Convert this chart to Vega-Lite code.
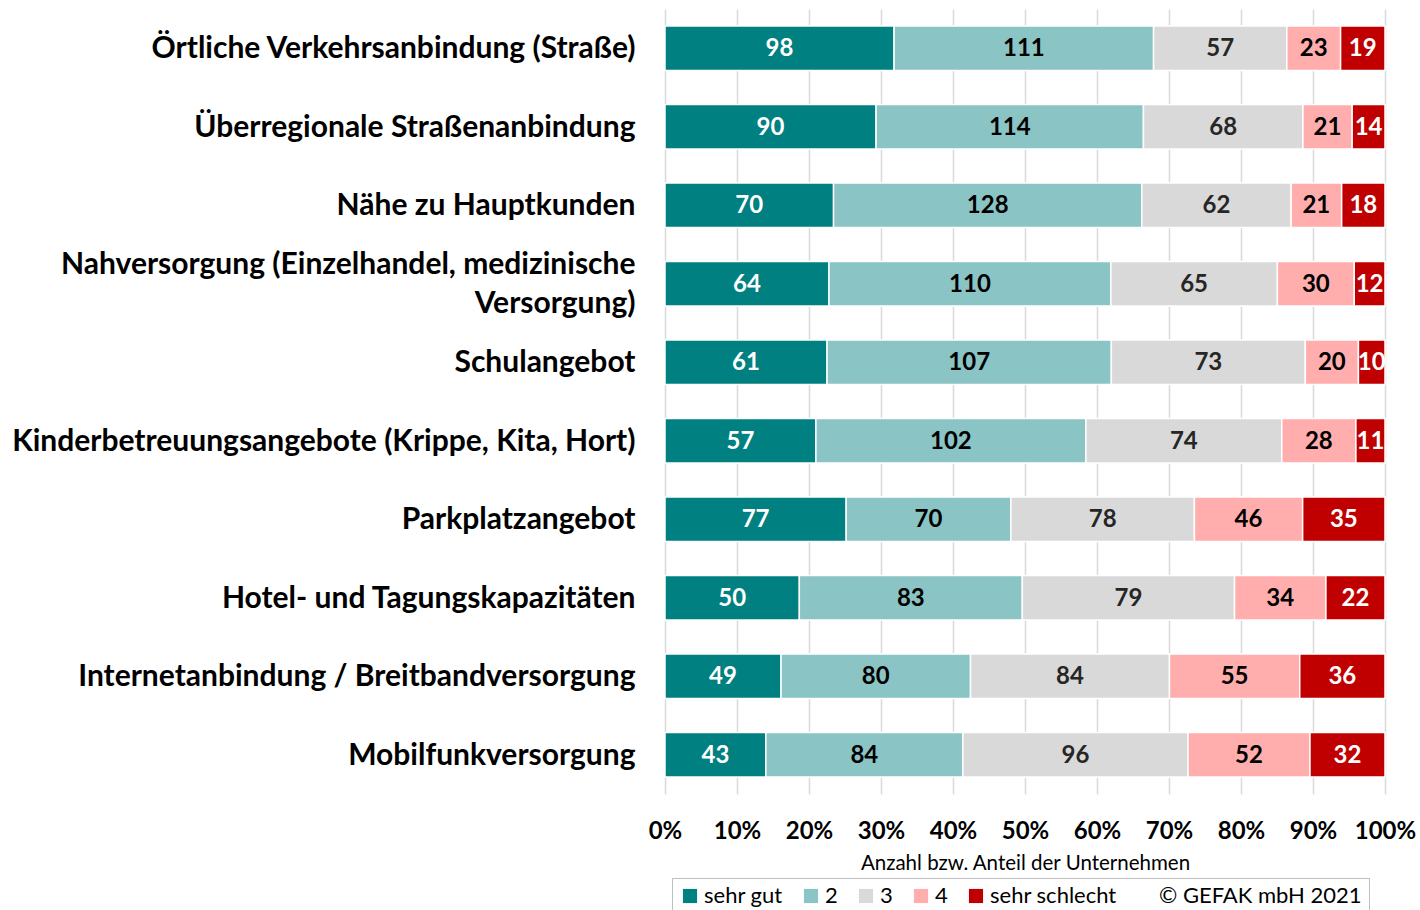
{
  "$schema": "https://vega.github.io/schema/vega-lite/v6.json",
  "autosize": {"type": "none"},
  "width": 720,
  "height": 785,
  "padding": {"left": 665, "top": 9, "right": 35, "bottom": 116},
  "background": "white",
  "config": {
    "font": "Lato",
    "view": {"stroke": null}
  },
  "datasets": {
    "rows": [
      {"i": 1, "item": "Örtliche Verkehrsanbindung (Straße)", "cat": "sehr gut", "k": 1, "n": 98},
      {"i": 1, "item": "Örtliche Verkehrsanbindung (Straße)", "cat": "2", "k": 2, "n": 111},
      {"i": 1, "item": "Örtliche Verkehrsanbindung (Straße)", "cat": "3", "k": 3, "n": 57},
      {"i": 1, "item": "Örtliche Verkehrsanbindung (Straße)", "cat": "4", "k": 4, "n": 23},
      {"i": 1, "item": "Örtliche Verkehrsanbindung (Straße)", "cat": "sehr schlecht", "k": 5, "n": 19},
      {"i": 2, "item": "Überregionale Straßenanbindung", "cat": "sehr gut", "k": 1, "n": 90},
      {"i": 2, "item": "Überregionale Straßenanbindung", "cat": "2", "k": 2, "n": 114},
      {"i": 2, "item": "Überregionale Straßenanbindung", "cat": "3", "k": 3, "n": 68},
      {"i": 2, "item": "Überregionale Straßenanbindung", "cat": "4", "k": 4, "n": 21},
      {"i": 2, "item": "Überregionale Straßenanbindung", "cat": "sehr schlecht", "k": 5, "n": 14},
      {"i": 3, "item": "Nähe zu Hauptkunden", "cat": "sehr gut", "k": 1, "n": 70},
      {"i": 3, "item": "Nähe zu Hauptkunden", "cat": "2", "k": 2, "n": 128},
      {"i": 3, "item": "Nähe zu Hauptkunden", "cat": "3", "k": 3, "n": 62},
      {"i": 3, "item": "Nähe zu Hauptkunden", "cat": "4", "k": 4, "n": 21},
      {"i": 3, "item": "Nähe zu Hauptkunden", "cat": "sehr schlecht", "k": 5, "n": 18},
      {"i": 4, "item": "Nahversorgung (Einzelhandel, medizinische Versorgung)", "cat": "sehr gut", "k": 1, "n": 64},
      {"i": 4, "item": "Nahversorgung (Einzelhandel, medizinische Versorgung)", "cat": "2", "k": 2, "n": 110},
      {"i": 4, "item": "Nahversorgung (Einzelhandel, medizinische Versorgung)", "cat": "3", "k": 3, "n": 65},
      {"i": 4, "item": "Nahversorgung (Einzelhandel, medizinische Versorgung)", "cat": "4", "k": 4, "n": 30},
      {"i": 4, "item": "Nahversorgung (Einzelhandel, medizinische Versorgung)", "cat": "sehr schlecht", "k": 5, "n": 12},
      {"i": 5, "item": "Schulangebot", "cat": "sehr gut", "k": 1, "n": 61},
      {"i": 5, "item": "Schulangebot", "cat": "2", "k": 2, "n": 107},
      {"i": 5, "item": "Schulangebot", "cat": "3", "k": 3, "n": 73},
      {"i": 5, "item": "Schulangebot", "cat": "4", "k": 4, "n": 20},
      {"i": 5, "item": "Schulangebot", "cat": "sehr schlecht", "k": 5, "n": 10},
      {"i": 6, "item": "Kinderbetreuungsangebote (Krippe, Kita, Hort)", "cat": "sehr gut", "k": 1, "n": 57},
      {"i": 6, "item": "Kinderbetreuungsangebote (Krippe, Kita, Hort)", "cat": "2", "k": 2, "n": 102},
      {"i": 6, "item": "Kinderbetreuungsangebote (Krippe, Kita, Hort)", "cat": "3", "k": 3, "n": 74},
      {"i": 6, "item": "Kinderbetreuungsangebote (Krippe, Kita, Hort)", "cat": "4", "k": 4, "n": 28},
      {"i": 6, "item": "Kinderbetreuungsangebote (Krippe, Kita, Hort)", "cat": "sehr schlecht", "k": 5, "n": 11},
      {"i": 7, "item": "Parkplatzangebot", "cat": "sehr gut", "k": 1, "n": 77},
      {"i": 7, "item": "Parkplatzangebot", "cat": "2", "k": 2, "n": 70},
      {"i": 7, "item": "Parkplatzangebot", "cat": "3", "k": 3, "n": 78},
      {"i": 7, "item": "Parkplatzangebot", "cat": "4", "k": 4, "n": 46},
      {"i": 7, "item": "Parkplatzangebot", "cat": "sehr schlecht", "k": 5, "n": 35},
      {"i": 8, "item": "Hotel- und Tagungskapazitäten", "cat": "sehr gut", "k": 1, "n": 50},
      {"i": 8, "item": "Hotel- und Tagungskapazitäten", "cat": "2", "k": 2, "n": 83},
      {"i": 8, "item": "Hotel- und Tagungskapazitäten", "cat": "3", "k": 3, "n": 79},
      {"i": 8, "item": "Hotel- und Tagungskapazitäten", "cat": "4", "k": 4, "n": 34},
      {"i": 8, "item": "Hotel- und Tagungskapazitäten", "cat": "sehr schlecht", "k": 5, "n": 22},
      {"i": 9, "item": "Internetanbindung / Breitbandversorgung", "cat": "sehr gut", "k": 1, "n": 49},
      {"i": 9, "item": "Internetanbindung / Breitbandversorgung", "cat": "2", "k": 2, "n": 80},
      {"i": 9, "item": "Internetanbindung / Breitbandversorgung", "cat": "3", "k": 3, "n": 84},
      {"i": 9, "item": "Internetanbindung / Breitbandversorgung", "cat": "4", "k": 4, "n": 55},
      {"i": 9, "item": "Internetanbindung / Breitbandversorgung", "cat": "sehr schlecht", "k": 5, "n": 36},
      {"i": 10, "item": "Mobilfunkversorgung", "cat": "sehr gut", "k": 1, "n": 43},
      {"i": 10, "item": "Mobilfunkversorgung", "cat": "2", "k": 2, "n": 84},
      {"i": 10, "item": "Mobilfunkversorgung", "cat": "3", "k": 3, "n": 96},
      {"i": 10, "item": "Mobilfunkversorgung", "cat": "4", "k": 4, "n": 52},
      {"i": 10, "item": "Mobilfunkversorgung", "cat": "sehr schlecht", "k": 5, "n": 32}
    ]
  },
  "data": {"name": "rows"},
  "transform": [
    {"stack": "n", "groupby": ["item"], "sort": [{"field": "k", "order": "ascending"}], "offset": "normalize", "as": ["p0", "p1"]},
    {"calculate": "(datum.p0 + datum.p1) / 2", "as": "pm"}
  ],
  "encoding": {
    "y": {
      "field": "item",
      "type": "nominal",
      "sort": {"field": "i", "op": "min", "order": "ascending"},
      "scale": {"paddingInner": 0.43, "paddingOuter": 0.215},
      "axis": {
        "title": null,
        "ticks": false,
        "domain": false,
        "labelFontSize": 30,
        "labelFontWeight": "bold",
        "labelColor": "black",
        "labelPadding": 30,
        "labelLimit": 700,
        "labelLineHeight": 39,
        "labelOffset": {"condition": {"test": "datum.value == 'Nahversorgung (Einzelhandel, medizinische Versorgung)'", "value": -19}, "value": 1},
        "labelExpr": "datum.value == 'Nahversorgung (Einzelhandel, medizinische Versorgung)' ? ['Nahversorgung (Einzelhandel, medizinische', 'Versorgung)'] : datum.label"
      }
    }
  },
  "layer": [
    {
      "mark": {"type": "bar", "stroke": "white", "strokeWidth": 1.5},
      "encoding": {
        "x": {
          "field": "p0",
          "type": "quantitative",
          "scale": {"domain": [0, 1], "nice": false},
          "axis": {
            "format": "%",
            "values": [0, 0.1, 0.2, 0.3, 0.4, 0.5, 0.6, 0.7, 0.8, 0.9, 1],
            "labelOverlap": false,
            "grid": true,
            "gridColor": "#d9d9d9",
            "gridWidth": 1.5,
            "domain": false,
            "ticks": false,
            "labelFontSize": 24,
            "labelFontWeight": "bold",
            "labelColor": "black",
            "labelPadding": 25,
            "labelFlush": false,
            "title": "Anzahl bzw. Anteil der Unternehmen",
            "titleFontSize": 20.5,
            "titleFontWeight": "normal",
            "titleColor": "black",
            "titlePadding": 10
          }
        },
        "x2": {"field": "p1"},
        "color": {
          "field": "cat",
          "type": "nominal",
          "scale": {
            "domain": ["sehr gut", "2", "3", "4", "sehr schlecht", "© GEFAK mbH 2021"],
            "range": ["#008080", "#8ac4c4", "#d9d9d9", "#ffadad", "#c00000", "transparent"]
          },
          "legend": {
            "title": null,
            "orient": "none",
            "legendX": 7,
            "legendY": 869,
            "direction": "horizontal",
            "symbolType": "square",
            "symbolSize": 200,
            "symbolStrokeWidth": 0,
            "labelFontSize": 22,
            "labelFont": "Lato",
            "labelColor": "black",
            "labelLimit": 300,
            "labelOffset": 3,
            "columnPadding": 17,
            "strokeColor": "#bfbfbf",
            "padding": 7
          }
        }
      }
    },
    {
      "mark": {"type": "text", "fontSize": 24, "fontWeight": "bold", "baseline": "middle", "align": "center", "dy": 1},
      "encoding": {
        "x": {"field": "pm", "type": "quantitative"},
        "text": {"field": "n", "type": "quantitative"},
        "color": {
          "condition": [
            {"test": "datum.k == 1 || datum.k == 5", "value": "white"},
            {"test": "datum.k == 3", "value": "#262626"}
          ],
          "value": "black"
        }
      }
    }
  ]
}
